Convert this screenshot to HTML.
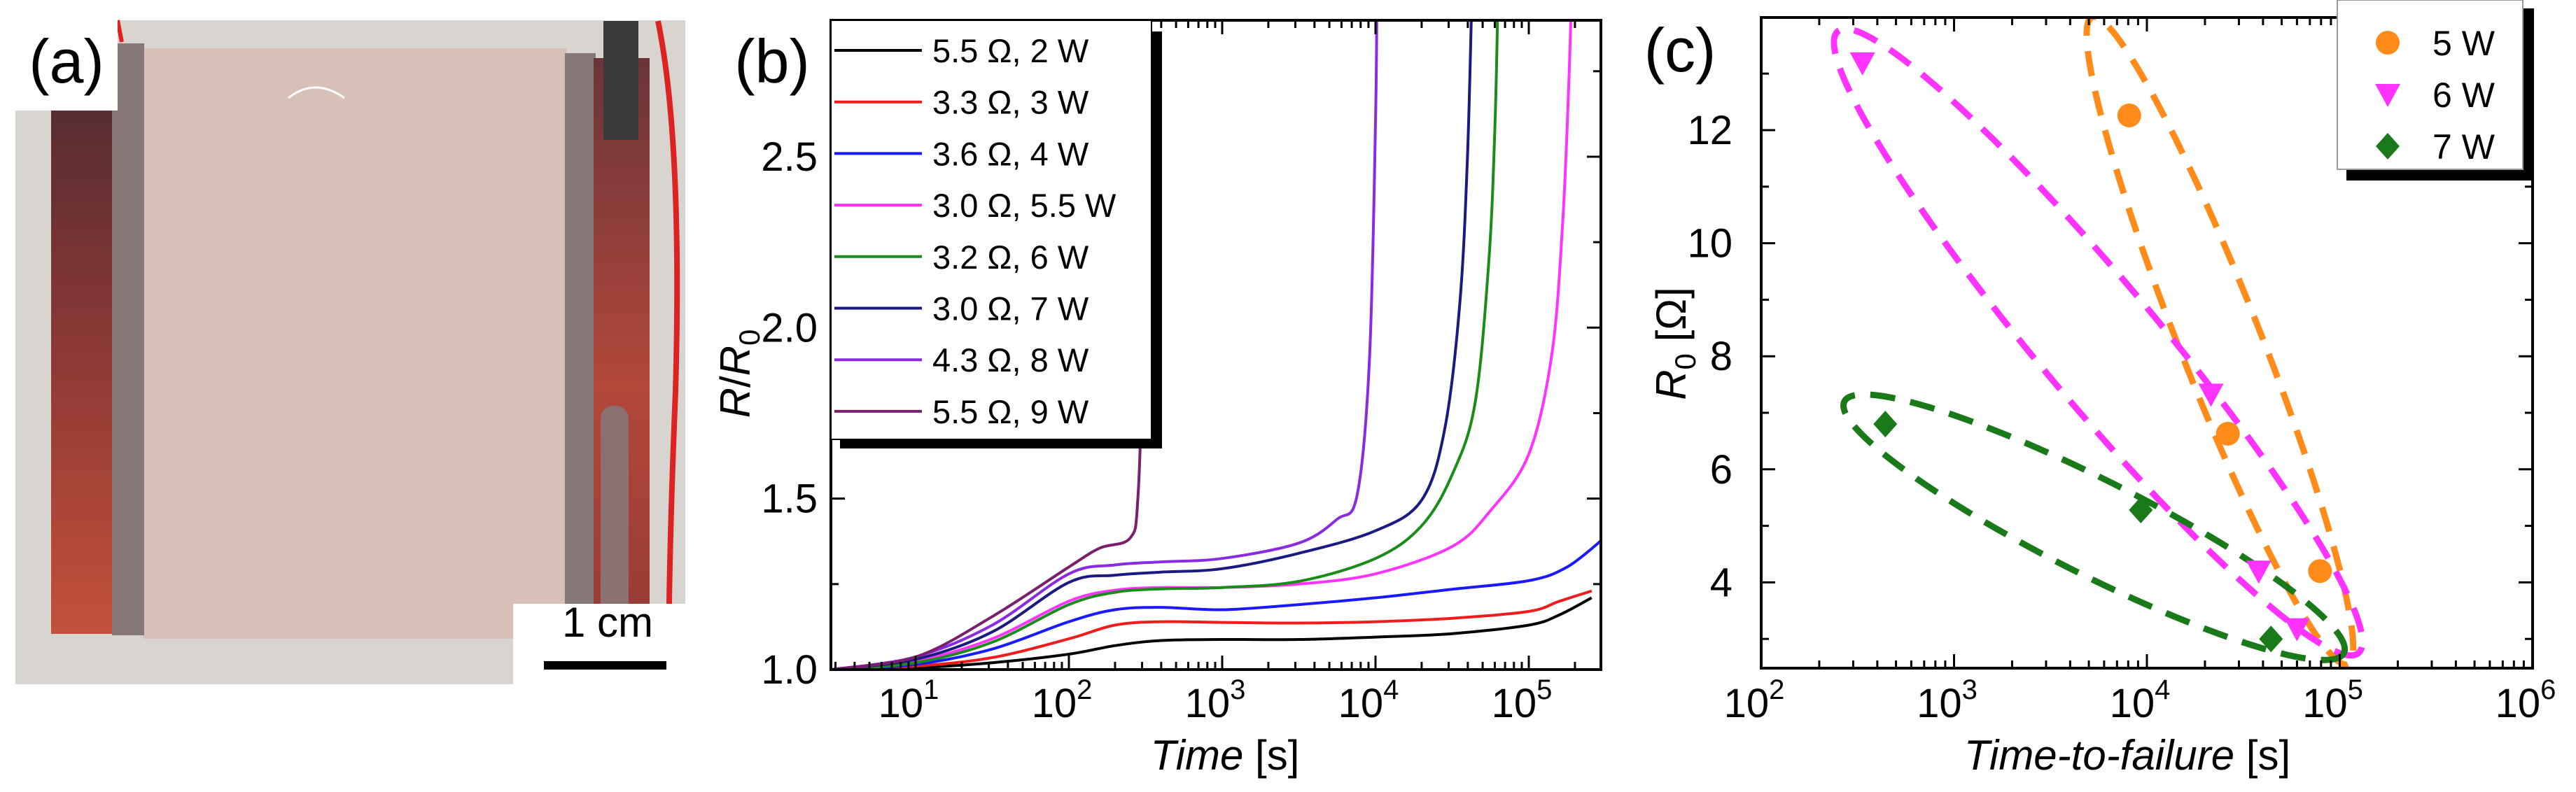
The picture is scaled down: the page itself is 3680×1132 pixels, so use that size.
<!DOCTYPE html>
<html><head><meta charset="utf-8"><style>
html,body{margin:0;padding:0;background:#fff;}
svg{display:block;font-family:"Liberation Sans",sans-serif;}
</style></head><body>
<svg id="fig" width="3680" height="1132" viewBox="0 0 3680 1132" xmlns="http://www.w3.org/2000/svg">
<defs>
<linearGradient id="cuL" x1="0" y1="0" x2="0" y2="1"><stop offset="0" stop-color="#4a2a30"/><stop offset="0.5" stop-color="#8a3834"/><stop offset="1" stop-color="#c4503a"/></linearGradient>
<linearGradient id="cuR" x1="0" y1="0" x2="0" y2="1"><stop offset="0" stop-color="#6a3438"/><stop offset="0.6" stop-color="#b2473a"/><stop offset="1" stop-color="#9a3c36"/></linearGradient>
<clipPath id="clipB"><rect x="1187" y="29" width="1100" height="928"/></clipPath>
<clipPath id="clipC"><rect x="2516" y="25" width="1102" height="930"/></clipPath>
</defs>
<g>
<rect x="22" y="29" width="957" height="949" fill="#d8d5d1"/>
<rect x="204" y="69" width="606" height="844" fill="#d7c0b8"/>
<rect x="73" y="72" width="90" height="834" fill="url(#cuL)"/>
<rect x="160" y="62" width="46" height="846" fill="#857877"/>
<rect x="807" y="76" width="44" height="820" fill="#857877"/>
<rect x="848" y="83" width="80" height="780" fill="url(#cuR)"/>
<rect x="862" y="30" width="50" height="170" fill="#3a3a3a"/>
<rect x="858" y="580" width="40" height="330" fill="#8a7070" rx="18"/>
<path d="M940 30 Q975 200 965 560 Q955 800 955 978" stroke="#d22" stroke-width="8" fill="none"/>
<path d="M168 29 L174 60" stroke="#d22" stroke-width="6"/>
<path d="M412 140 Q450 110 492 140" stroke="#fff" stroke-width="3" fill="none"/>
<rect x="22" y="29" width="146" height="129" fill="#fff"/>
<text x="95" y="118" font-size="88" text-anchor="middle">(a)</text>
<rect x="733" y="863" width="246" height="115" fill="#fff"/>
<text x="868" y="910" font-size="60" text-anchor="middle">1 cm</text>
<rect x="777" y="945" width="175" height="12" fill="#000"/>
</g>
<g id="panelB"></g>
<g id="panelC"></g>
</svg>
<script>
// ---------- Panel (b) data ----------
const bNames = ["5.5 Ω, 2 W","3.3 Ω, 3 W","3.6 Ω, 4 W","3.0 Ω, 5.5 W","3.2 Ω, 6 W","3.0 Ω, 7 W","4.3 Ω, 8 W","5.5 Ω, 9 W"];
const bColors = ["#000000","#ee1c1c","#1a1aff","#ff33ff","#1a8c1a","#1a1a80","#8a2be2","#7a1f6e"];
const bLog2W = [0.45,1,1.5,2,2.3,2.6,3,3.5,4,4.5,5,5.2,5.41];
const bVal2W = [1.0,1.005,1.02,1.045,1.07,1.085,1.088,1.088,1.095,1.105,1.13,1.16,1.21];
const bLog3W = [0.45,1,1.5,2,2.3,2.6,3,3.5,4,4.5,5,5.2,5.41];
const bVal3W = [1.0,1.01,1.035,1.09,1.13,1.14,1.138,1.136,1.14,1.15,1.17,1.2,1.23];
const bLog4W = [0.45,1,1.5,2,2.3,2.6,3,3.5,4,4.5,5,5.25,5.48];
const bVal4W = [1.0,1.015,1.06,1.14,1.175,1.182,1.175,1.19,1.21,1.235,1.26,1.3,1.38];
const bLog55W = [0.45,1,1.5,2,2.3,2.6,3,3.5,4,4.5,4.75,5,5.15,5.22,5.26,5.28];
const bVal55W = [1.0,1.025,1.09,1.2,1.232,1.24,1.24,1.25,1.28,1.36,1.465,1.63,1.92,2.3,2.7,3.0];
const bLog6W = [0.45,1,1.5,2,2.3,2.6,3,3.5,4,4.3,4.5,4.65,4.74,4.78,4.8];
const bVal6W = [1.0,1.02,1.08,1.19,1.226,1.236,1.24,1.258,1.325,1.42,1.57,1.78,2.2,2.6,3.0];
const bLog7W = [0.45,1,1.5,2,2.3,2.6,3,3.5,4,4.3,4.45,4.55,4.6,4.63];
const bVal7W = [1.0,1.03,1.11,1.255,1.276,1.285,1.295,1.34,1.406,1.495,1.7,2.07,2.5,3.0];
const bLog8W = [0.45,1,1.5,2,2.3,2.6,3,3.5,3.75,3.88,3.96,4.0,4.01];
const bVal8W = [1.0,1.037,1.13,1.28,1.306,1.315,1.325,1.37,1.44,1.51,1.9,2.6,3.0];
const bLog9W = [0.45,1,1.5,2,2.2,2.4,2.45,2.48,2.5];
const bVal9W = [1.0,1.037,1.155,1.3,1.355,1.385,1.5,1.92,2.5];
const bLogs = [bLog2W,bLog3W,bLog4W,bLog55W,bLog6W,bLog7W,bLog8W,bLog9W];
const bVals = [bVal2W,bVal3W,bVal4W,bVal55W,bVal6W,bVal7W,bVal8W,bVal9W];
const bYTicks = ["1.0","1.5","2.0","2.5"];
const bXTickExp = ["1","2","3","4","5"];

// ---------- Panel (c) data ----------
const cSeries = ["5 W","6 W","7 W"];
const cColors = ["#ff8c1a","#ff33ff","#1a7a1a"];
const cT5W = [8100,26300,79000];
const cR5W = [12.26,6.63,4.2];
const cT6W = [335,21500,38000,60000];
const cR6W = [13.19,7.33,4.2,3.18];
const cT7W = [440,9300,44000];
const cR7W = [6.8,5.28,3.0];
// ellipse tips [time, R] and semi-minor half-width
const cEllTipA = [[5200,14.0],[250,13.75],[270,7.2]];
const cEllTipB = [[110000,2.55],[125000,2.75],[105000,2.75]];
const cEllWidth = [58,85,68];
const cYTicks = ["4","6","8","10","12"];
const cXTickExp = ["2","3","4","5","6"];

const NS="http://www.w3.org/2000/svg";
function mk(parent,tag,attrs){const e=document.createElementNS(NS,tag);for(const k in attrs)e.setAttribute(k,attrs[k]);parent.appendChild(e);return e;}
function smoothPath(p){
  let d='M'+p[0][0].toFixed(1)+' '+p[0][1].toFixed(1);
  for(let i=0;i<p.length-1;i++){
    const p0=p[Math.max(0,i-1)],p1=p[i],p2=p[i+1],p3=p[Math.min(p.length-1,i+2)];
    const c1=[p1[0]+(p2[0]-p0[0])/6,p1[1]+(p2[1]-p0[1])/6];
    const c2=[p2[0]-(p3[0]-p1[0])/6,p2[1]-(p3[1]-p1[1])/6];
    d+=` C${c1[0].toFixed(1)} ${c1[1].toFixed(1)} ${c2[0].toFixed(1)} ${c2[1].toFixed(1)} ${p2[0].toFixed(1)} ${p2[1].toFixed(1)}`;
  }
  return d;
}

// ----- Panel B -----
const gB=document.getElementById('panelB');
const bL=1187,bR=2287,bT=29,bB=957;
function xB(l){return 1308+(l-1)*219;}
function yB(v){return 957-(v-1)*488.7;}
const curvesB=mk(gB,'g',{'clip-path':'url(#clipB)'});


for(let s=0;s<bLogs.length;s++){
  const pts=bLogs[s].map((l,i)=>[xB(l),yB(bVals[s][i])]);
  const p=mk(curvesB,'path',{d:smoothPath(pts),fill:'none',stroke:bColors[s],'stroke-width':4,'stroke-linejoin':'round'});
  
  
}
const frB=mk(gB,'rect',{x:bL,y:bT,width:bR-bL,height:bB-bT,fill:'none',stroke:'#000','stroke-width':4});


for(let d=0;d<=6;d++){
  for(let m=1;m<=9;m++){
    const l=d+Math.log10(m);const x=xB(l);
    if(x<bL||x>bR)continue;
    const len=m===1?20:11;
    mk(gB,'line',{x1:x,y1:bB,x2:x,y2:bB-len,stroke:'#000','stroke-width':3});
    mk(gB,'line',{x1:x,y1:bT,x2:x,y2:bT+len,stroke:'#000','stroke-width':3});
  }
}
bXTickExp.forEach(e=>{
  const t=mk(gB,'text',{x:xB(+e)-10,y:1025,'font-size':58,'text-anchor':'middle'});
  
  
  t.textContent='10';
  const sp=mk(t,'tspan',{dy:-26,'font-size':40});sp.textContent=e;
});
for(let v=1;v<=2.9;v+=0.25){
  const y=yB(v);const major=Math.abs(v*2-Math.round(v*2))<1e-6;const len=major?20:11;
  mk(gB,'line',{x1:bL,y1:y,x2:bL+len,y2:y,stroke:'#000','stroke-width':3});
  mk(gB,'line',{x1:bR,y1:y,x2:bR-len,y2:y,stroke:'#000','stroke-width':3});
}
bYTicks.forEach(v=>{
  const t=mk(gB,'text',{x:1168,y:yB(+v)+20,'font-size':58,'text-anchor':'end'});
  
  
  t.textContent=v;
});
mk(gB,'rect',{x:1200,y:45,width:460,height:596,fill:'#000'});
const lgB=mk(gB,'rect',{x:1187,y:29,width:458,height:599,fill:'#fff',stroke:'#000','stroke-width':2});


bNames.forEach((n,i)=>{
  const y=72+i*73.7;
  const ln=mk(gB,'line',{x1:1192,y1:y,x2:1317,y2:y,stroke:bColors[i],'stroke-width':4});
  
  
  const t=mk(gB,'text',{x:1332,y:y+17,'font-size':47});
  
  
  t.textContent=n;
});
const labB=mk(gB,'text',{x:1103,y:118,'font-size':88,'text-anchor':'middle'});


labB.textContent='(b)';
const xtB=mk(gB,'text',{x:1750,y:1100,'font-size':60,'text-anchor':'middle'});


xtB.innerHTML='<tspan font-style="italic">Time</tspan> [s]';
const ytB=mk(gB,'text',{x:0,y:0,'font-size':60,'text-anchor':'middle',transform:'translate(1071,534) rotate(-90)'});


ytB.innerHTML='<tspan font-style="italic">R</tspan>/<tspan font-style="italic">R</tspan><tspan font-size="42" dy="14">0</tspan>';

// ----- Panel C -----
const gC=document.getElementById('panelC');
const cL=2516,cR=3618,cT=25,cB=955;
function xC(t){return 2516+(Math.log10(t)-2)*275.5;}
function yC(v){return 186+(12-v)*80.8;}
const ellG=mk(gC,'g',{'clip-path':'url(#clipC)'});


for(let i=0;i<3;i++){
  const ax=xC(cEllTipA[i][0]),ay=yC(cEllTipA[i][1]),bx=xC(cEllTipB[i][0]),by=yC(cEllTipB[i][1]);
  const cx=(ax+bx)/2,cy=(ay+by)/2,rx=Math.hypot(bx-ax,by-ay)/2,ang=Math.atan2(by-ay,bx-ax)*180/Math.PI;
  const e=mk(ellG,'ellipse',{cx:cx,cy:cy,rx:rx,ry:cEllWidth[i],transform:`rotate(${ang} ${cx} ${cy})`,fill:'none',stroke:cColors[i],'stroke-width':9,'stroke-dasharray':'36 22'});
  
  
}
function marker(parent,type,x,y,col){
  let el;
  if(type===0) el=mk(parent,'circle',{cx:x,cy:y,r:17,fill:col});
  else if(type===1) el=mk(parent,'polygon',{points:`${x-18},${y-15} ${x+18},${y-15} ${x},${y+18}`,fill:col});
  else el=mk(parent,'polygon',{points:`${x},${y-19} ${x+17},${y} ${x},${y+19} ${x-17},${y}`,fill:col});
  return el;
}
const cTs=[cT5W,cT6W,cT7W],cRs=[cR5W,cR6W,cR7W];
for(let s=0;s<3;s++){
  cTs[s].forEach((t,i)=>{
    const m=marker(gC,s,xC(t),yC(cRs[s][i]),cColors[s]);
    
    
  });
}
const frC=mk(gC,'rect',{x:cL,y:cT,width:cR-cL,height:cB-cT,fill:'none',stroke:'#000','stroke-width':4});


for(let d=2;d<=6;d++){
  for(let m=1;m<=9;m++){
    const x=xC(m*Math.pow(10,d));
    if(x>cR+1)continue;
    const len=m===1?20:11;
    mk(gC,'line',{x1:x,y1:cB,x2:x,y2:cB-len,stroke:'#000','stroke-width':3});
    mk(gC,'line',{x1:x,y1:cT,x2:x,y2:cT+len,stroke:'#000','stroke-width':3});
  }
}
cXTickExp.forEach(e=>{
  const t=mk(gC,'text',{x:xC(Math.pow(10,+e))-10,y:1025,'font-size':58,'text-anchor':'middle'});
  
  
  t.textContent='10';
  const sp=mk(t,'tspan',{dy:-26,'font-size':40});sp.textContent=e;
});
for(let v=3;v<=13;v++){
  const y=yC(v);const len=v%2===0?20:11;
  mk(gC,'line',{x1:cL,y1:y,x2:cL+len,y2:y,stroke:'#000','stroke-width':3});
  mk(gC,'line',{x1:cR,y1:y,x2:cR-len,y2:y,stroke:'#000','stroke-width':3});
}
cYTicks.forEach(v=>{
  const t=mk(gC,'text',{x:2475,y:yC(+v)+20,'font-size':58,'text-anchor':'end'});
  
  
  t.textContent=v;
});
mk(gC,'rect',{x:3352,y:12,width:268,height:246,fill:'#000'});
const lgC=mk(gC,'rect',{x:3339,y:0,width:265,height:242,fill:'#fff',stroke:'#999','stroke-width':2});


cSeries.forEach((n,i)=>{
  const y=61+i*74;
  const m=marker(gC,i,3411,y,cColors[i]);
  
  
  const t=mk(gC,'text',{x:3475,y:y+18,'font-size':50});
  
  
  t.textContent=n;
});
const labC=mk(gC,'text',{x:2400,y:102,'font-size':88,'text-anchor':'middle'});


labC.textContent='(c)';
const xtC=mk(gC,'text',{x:3039,y:1100,'font-size':60,'text-anchor':'middle'});


xtC.innerHTML='<tspan font-style="italic">Time-to-failure</tspan> [s]';
const ytC=mk(gC,'text',{x:0,y:0,'font-size':60,'text-anchor':'middle',transform:'translate(2408,491) rotate(-90)'});


ytC.innerHTML='<tspan font-style="italic">R</tspan><tspan font-size="42" dy="14">0</tspan><tspan dy="-14"> [Ω]</tspan>';
</script>
</body></html>
